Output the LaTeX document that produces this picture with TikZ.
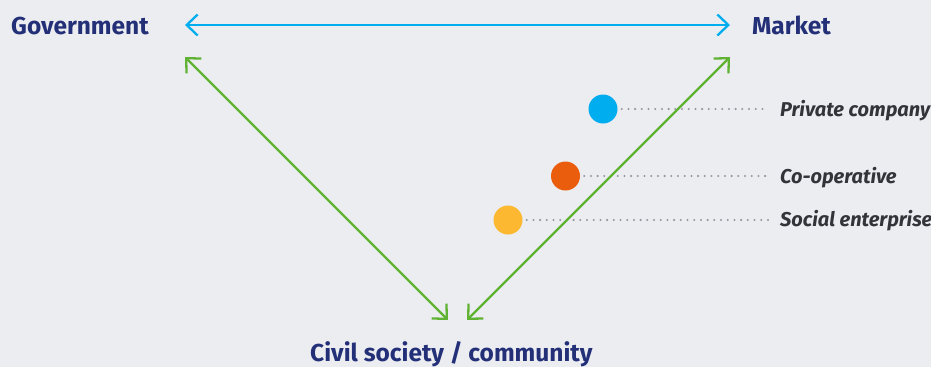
\documentclass[tikz,border=0pt]{standalone}
\usepackage{fontspec}
\setmainfont{Fira Sans}
\usetikzlibrary{arrows.meta}
\definecolor{bg}{RGB}{236,237,241}
\definecolor{navy}{RGB}{35,48,120}
\definecolor{skyblue}{RGB}{0,174,239}
\definecolor{leaf}{RGB}{95,178,50}
\definecolor{dotgrey}{RGB}{150,151,158}
\definecolor{lbl}{RGB}{50,52,58}
\definecolor{pc}{RGB}{0,174,239}
\definecolor{coop}{RGB}{234,93,13}
\definecolor{soc}{RGB}{251,184,48}
\tikzset{
  title/.style={font=\bfseries\fontsize{24.5}{28}\selectfont, text=navy, inner sep=0pt, anchor=base west},
  lab/.style={font=\bfseries\itshape\fontsize{20}{24}\selectfont, text=lbl, inner sep=0pt, anchor=base west},
  link/.style={line width=2.3pt, {Straight Barb[length=11pt,width=21pt]}-{Straight Barb[length=11pt,width=21pt]}},
  bubble/.style={circle, minimum size=29pt, inner sep=0pt},
  leader/.style={dotgrey, line width=2.3pt, dash pattern=on 0pt off 6.7pt, line cap=round}
}
\begin{document}
\begin{tikzpicture}[x=1pt,y=-1pt]
\fill[bg] (0,0) rectangle (931,367);
\useasboundingbox (0,0) rectangle (931,367);
\node[title] (gov) at (11,34) {Government};
\node[title] (mkt) at (752,34) {Market};
\node[title] (civ) at (310,361) {Civil society / community};
\node[bubble, fill=pc] (b1) at (603,109) {};
\node[bubble, fill=coop] (b2) at (565.5,176) {};
\node[bubble, fill=soc] (b3) at (508,220) {};
\node[lab] (l1) at (780,116) {Private company};
\node[lab] (l2) at (780,183) {Co-operative};
\node[lab] (l3) at (780,226) {Social enterprise};
\coordinate (e1) at (769,109);
\coordinate (e2) at (769,176);
\coordinate (e3) at (769,220);
\draw[leader] ([xshift=4pt]b1.east) -- (e1);
\draw[leader] ([xshift=4pt]b2.east) -- (e2);
\draw[leader] ([xshift=4pt]b3.east) -- (e3);
\coordinate (gr) at (185,25);
\coordinate (ml) at (730,25);
\coordinate (gd) at (185,57);
\coordinate (md) at (730,57);
\coordinate (cl) at (448,320);
\coordinate (cr) at (467,320);
\draw[link, skyblue] (gr) -- (ml);
\draw[link, leaf] (gd) -- (cl);
\draw[link, leaf] (md) -- (cr);
\end{tikzpicture}
\end{document}
